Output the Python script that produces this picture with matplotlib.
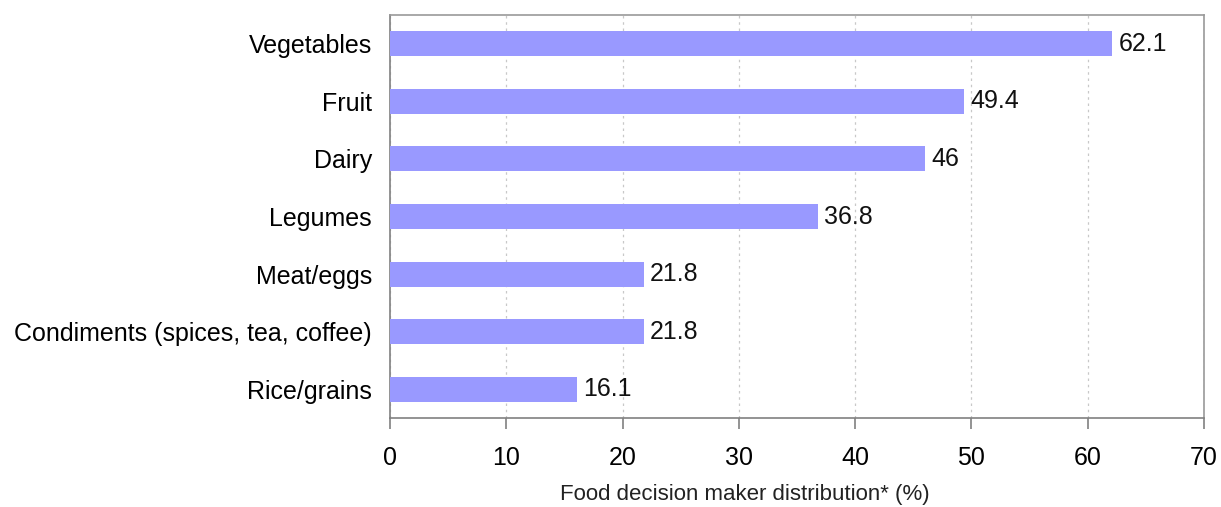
import matplotlib
matplotlib.use("Agg")
import matplotlib.pyplot as plt

categories = ["Vegetables", "Fruit", "Dairy", "Legumes", "Meat/eggs",
              "Condiments (spices, tea, coffee)", "Rice/grains"]
values = [62.1, 49.4, 46, 36.8, 21.8, 21.8, 16.1]
value_labels = ["62.1", "49.4", "46", "36.8", "21.8", "21.8", "16.1"]
xticks = [0, 10, 20, 30, 40, 50, 60, 70]

plt.rcParams['font.family'] = ['Liberation Sans', 'DejaVu Sans']

fig = plt.figure(figsize=(12.21, 5.07), dpi=100)
ax = fig.add_axes([390/1221, 1-418/507, (1204-390)/1221, (418-15)/507])

ypos = list(range(len(categories)))
ax.barh(ypos, values, height=0.435, color="#9999FF", edgecolor="none", zorder=3)
for y, v, lab in zip(ypos, values, value_labels):
    ax.text(v + 0.55, y, lab, va="center", ha="left", fontsize=18, color="#111111")

ax.set_ylim(len(categories) - 0.5, -0.5)
ax.set_xlim(0, 70)
ax.set_yticks(ypos)
ax.set_yticklabels(categories, fontsize=18)
ax.set_xticks(xticks)
ax.set_xticklabels([str(t) for t in xticks], fontsize=18)
ax.tick_params(axis="y", length=0, pad=13)
ax.tick_params(axis="x", length=8, width=1.2, color="#808080", direction="out", pad=12)
ax.grid(axis="x", linestyle=(0, (2, 3)), color="#c8c8c8", linewidth=0.9, zorder=0)
for s in ax.spines.values():
    s.set_color("#999999")
    s.set_linewidth(1.2)
ax.spines["bottom"].set_color("#808080")
ax.spines["left"].set_color("#808080")
ax.set_xlabel("Food decision maker distribution* (%)", fontsize=16, color="#222222", labelpad=10)
ax.xaxis.set_label_coords(0.436, -0.165)

fig.savefig("out.png", dpi=100)
